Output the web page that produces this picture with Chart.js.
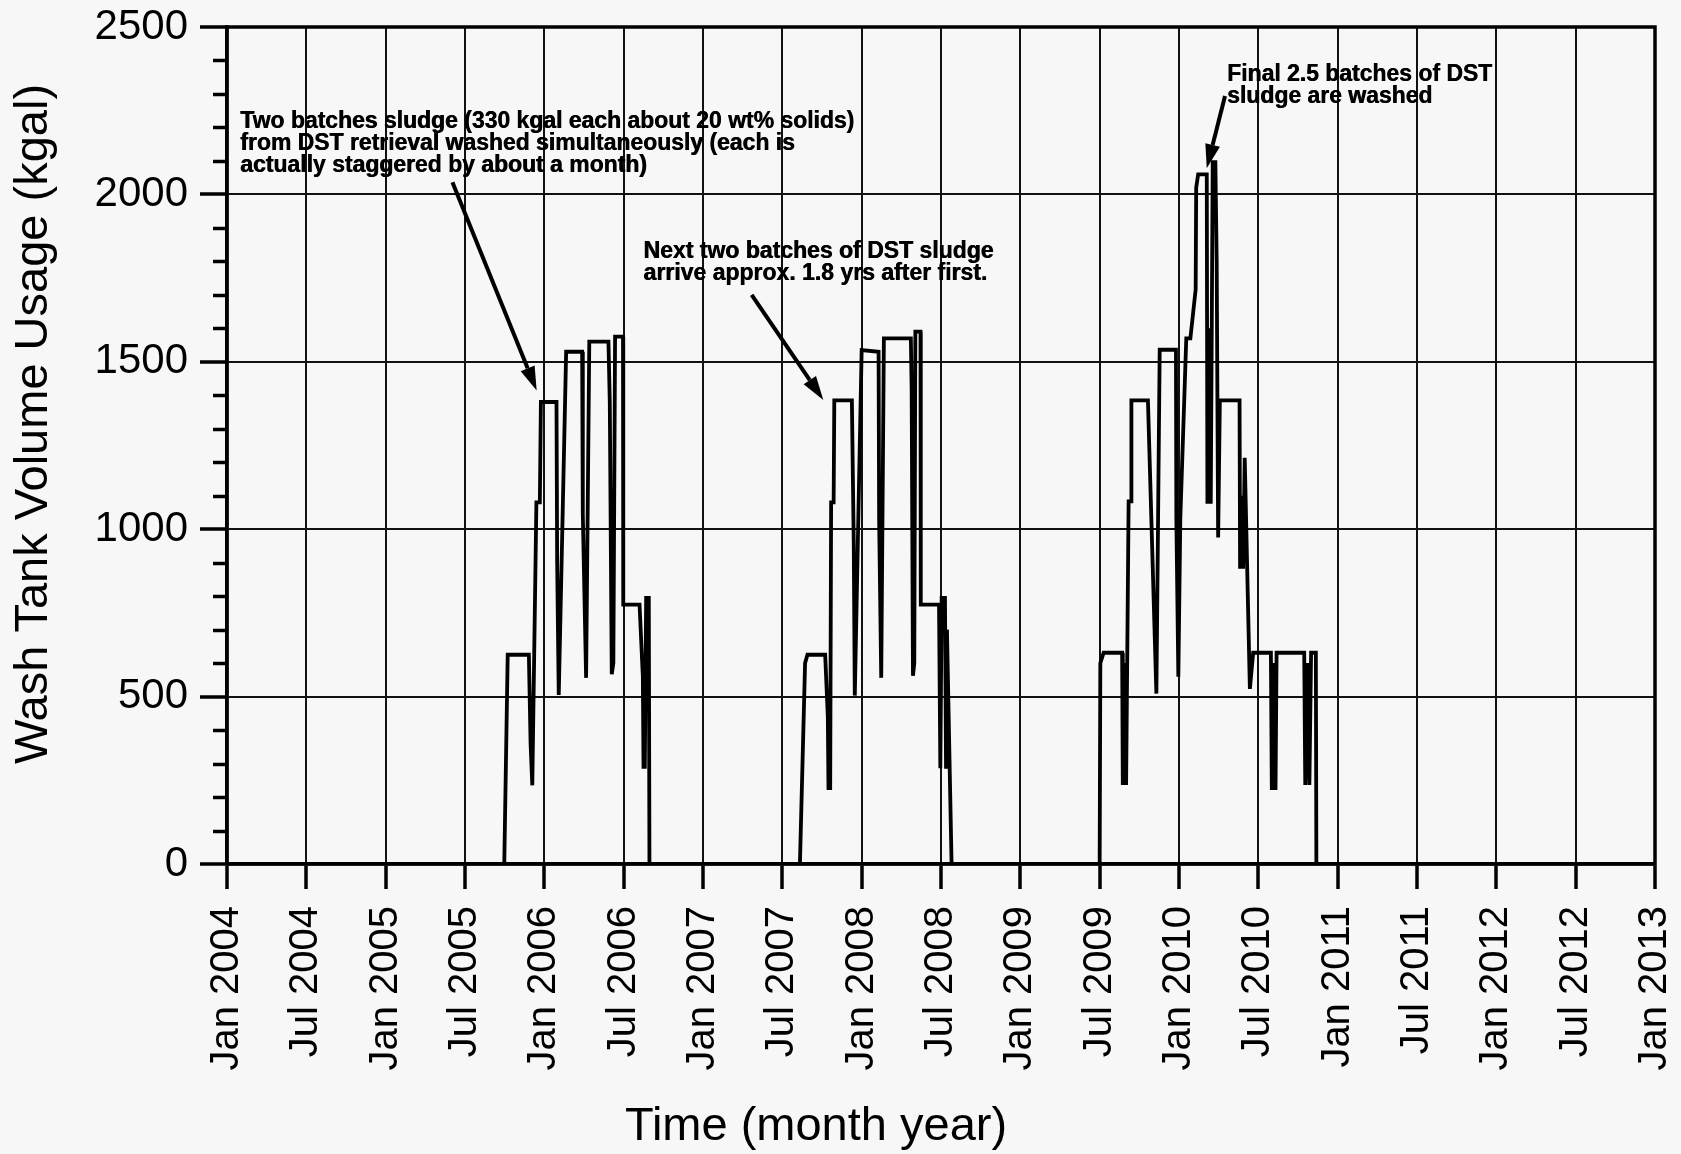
<!DOCTYPE html>
<html>
<head>
<meta charset="utf-8">
<script src="https://cdn.jsdelivr.net/npm/chart.js@4/dist/chart.umd.min.js"></script>
<style>
  html, body { margin: 0; padding: 0; background: #f7f7f7; }
  canvas { display: block; }
</style>
</head>
<body>
<canvas id="chart" width="1681" height="1154"></canvas>
<script>
// Tick labels for the time axis (one every six months, starting Jan 2004)
const xTickLabels = [
  'Jan 2004', 'Jul 2004', 'Jan 2005', 'Jul 2005', 'Jan 2006', 'Jul 2006',
  'Jan 2007', 'Jul 2007', 'Jan 2008', 'Jul 2008', 'Jan 2009', 'Jul 2009',
  'Jan 2010', 'Jul 2010', 'Jan 2011', 'Jul 2011', 'Jan 2012', 'Jul 2012',
  'Jan 2013'
];

// Time in months since Jan 2004
const months = [
  0,
  20.97, 21.23, 22.83, 22.96, 23.09, 23.40, 23.66, 23.74, 24.92, 24.97, 25.09, 25.65,
  26.86, 26.91, 27.16, 27.40, 28.85, 28.95, 29.10, 29.22, 29.35, 29.95, 29.97, 31.20,
  31.45, 31.50, 31.60, 31.70, 31.90, 31.95,
  43.33, 43.72, 43.90, 45.24, 45.44, 45.49, 45.62, 45.69, 45.88, 45.93, 47.26, 47.40,
  47.48, 48.00, 49.28, 49.32, 49.48, 49.68, 51.72, 51.78, 51.88, 51.98, 52.06, 52.45,
  52.47, 53.85, 53.95, 54.05, 54.30, 54.38, 54.45, 54.80,
  66.00, 66.05, 66.30, 67.70, 67.75, 67.90, 68.00, 68.19, 68.37, 68.40, 69.65, 70.29,
  70.54, 71.77, 71.80, 71.95, 72.10, 72.55, 72.86, 73.26, 73.30, 73.45, 74.10, 74.15,
  74.30, 74.40, 74.55, 74.75, 74.85, 74.96, 75.09, 76.58, 76.62, 76.75, 76.85, 76.97,
  77.36, 77.61, 78.95, 79.02, 79.20, 79.30, 79.38, 81.47, 81.55, 81.72, 81.86, 81.99,
  82.35, 82.39,
  108
];

// Wash tank volume in use (kgal)
const volumeKgal = [
  0,
  0, 625, 625, 360, 235, 1080, 1080, 1380, 1380, 900, 505, 1530,
  1530, 1045, 556, 1560, 1560, 1380, 567, 600, 1575, 1575, 775, 775,
  560, 290, 290, 795, 795, 0,
  0, 600, 625, 625, 440, 227, 227, 1080, 1080, 1385, 1385, 960,
  503, 1535, 1530, 1030, 556, 1570, 1570, 1420, 562, 600, 1590, 1590,
  775, 775, 286, 795, 795, 290, 700, 0,
  0, 600, 631, 631, 236, 600, 236, 1083, 1083, 1385, 1385, 509,
  1536, 1536, 1033, 559, 1033, 1570, 1570, 1716, 2020, 2060, 2060, 1076,
  1600, 1076, 2096, 2096, 1800, 975, 1385, 1385, 882, 1100, 882, 1213,
  523, 631, 631, 221, 600, 221, 631, 631, 236, 600, 236, 631,
  631, 0,
  0
];

// Callout texts
const noteFirstBatches = [
  'Two batches sludge (330 kgal each about 20 wt% solids)',
  'from DST retrieval washed simultaneously (each is',
  'actually staggered by about a month)'
];
const noteNextBatches = [
  'Next two batches of DST sludge',
  'arrive approx. 1.8 yrs after first.'
];
const noteFinalBatches = [
  'Final 2.5 batches of DST',
  'sludge are washed'
];

const xTitle = 'Time (month year)';
const yTitle = 'Wash Tank Volume Usage (kgal)';

const FONT = '"Liberation Sans", Arial, Helvetica, sans-serif';

// Callout placement: text anchor and arrow tail/tip in data units
const callouts = [
  { lines: noteFirstBatches, at: [0.99, 2197], width: 614, lineGap: 21.7,
    tail: [17.05, 2036], tip: [23.42, 1414] },
  { lines: noteNextBatches, at: [31.49, 1809], width: 350, lineGap: 21.7,
    tail: [39.68, 1700], tip: [45.10, 1386] },
  { lines: noteFinalBatches, at: [75.63, 2340], width: 265, lineGap: 22,
    tail: [75.48, 2294], tip: [74.10, 2078] }
];

function drawArrow(ctx, x0, y0, x1, y1) {
  const ang = Math.atan2(y1 - y0, x1 - x0);
  const headLen = 24, headHalf = 7.5;
  const bx = x1 - headLen * Math.cos(ang), by = y1 - headLen * Math.sin(ang);
  ctx.beginPath();
  ctx.moveTo(x0, y0);
  ctx.lineTo(bx, by);
  ctx.lineWidth = 4;
  ctx.lineCap = 'butt';
  ctx.stroke();
  ctx.beginPath();
  ctx.moveTo(x1, y1);
  ctx.lineTo(bx + headHalf * Math.sin(ang), by - headHalf * Math.cos(ang));
  ctx.lineTo(bx - headHalf * Math.sin(ang), by + headHalf * Math.cos(ang));
  ctx.closePath();
  ctx.fill();
}

const decorations = {
  id: 'decorations',
  beforeDraw(chart) {
    const ctx = chart.ctx;
    ctx.save();
    ctx.fillStyle = '#f7f7f7';
    ctx.fillRect(0, 0, chart.width, chart.height);
    ctx.restore();
  },
  afterDraw(chart) {
    const { ctx, chartArea: a, scales: { x, y } } = chart;
    ctx.save();
    ctx.strokeStyle = '#000';
    ctx.fillStyle = '#000';

    // minor tick marks every 100 kgal
    ctx.lineWidth = 3.5;
    for (let v = 100; v < 2500; v += 100) {
      if (v % 500 === 0) continue;
      const py = Math.round(y.getPixelForValue(v)) + 0.5;
      ctx.beginPath();
      ctx.moveTo(a.left - 14, py);
      ctx.lineTo(a.left, py);
      ctx.stroke();
    }

    // plot frame
    ctx.lineWidth = 3.5;
    ctx.strokeRect(a.left, a.top, a.right - a.left, a.bottom - a.top);

    // axis titles
    ctx.font = '47px ' + FONT;
    ctx.textAlign = 'center';
    ctx.textBaseline = 'middle';
    ctx.fillText(xTitle, 816, 1127);
    ctx.save();
    ctx.translate(34, 424);
    ctx.rotate(-Math.PI / 2);
    ctx.fillText(yTitle, 0, 0);
    ctx.restore();

    // callouts (condensed bold text + arrows)
    ctx.font = 'bold 23.5px ' + FONT;
    ctx.textAlign = 'left';
    ctx.textBaseline = 'alphabetic';
    callouts.forEach(c => {
      const px = x.getPixelForValue(c.at[0]);
      const py = y.getPixelForValue(c.at[1]);
      const sx = c.width / ctx.measureText(c.lines[0]).width;
      ctx.save();
      ctx.translate(px, py);
      ctx.scale(sx, 1);
      c.lines.forEach((line, i) => {
        ctx.fillText(line, 0, i * c.lineGap);
        ctx.fillText(line, 0.6, i * c.lineGap);
      });
      ctx.restore();
      drawArrow(ctx,
        x.getPixelForValue(c.tail[0]), y.getPixelForValue(c.tail[1]),
        x.getPixelForValue(c.tip[0]), y.getPixelForValue(c.tip[1]));
    });
    ctx.restore();
  }
};

const isMajor = c => c.tick && Math.round(c.tick.value) % 500 === 0;

new Chart(document.getElementById('chart'), {
  type: 'line',
  data: {
    datasets: [{
      data: months.map((m, i) => ({ x: m, y: volumeKgal[i] })),
      borderColor: '#000',
      borderWidth: 3.8,
      borderJoinStyle: 'miter',
      pointRadius: 0,
      tension: 0,
      fill: false
    }]
  },
  options: {
    responsive: false,
    animation: false,
    devicePixelRatio: 1,
    layout: { padding: { left: 0, right: 26, top: 27, bottom: 0 } },
    plugins: { legend: { display: false }, tooltip: { enabled: false } },
    scales: {
      x: {
        type: 'linear',
        min: 0,
        max: 108,
        afterFit: s => { s.height = 290; s.paddingLeft = 0; s.paddingRight = 0; },
        ticks: {
          stepSize: 6,
          maxTicksLimit: 100,
          autoSkip: false,
          minRotation: 90,
          maxRotation: 90,
          padding: 17,
          color: '#000',
          font: { family: FONT, size: 40 },
          callback: v => xTickLabels[Math.round(v / 6)]
        },
        grid: {
          color: '#111',
          lineWidth: 2,
          tickLength: 25,
          tickWidth: 3.5,
          tickColor: '#000'
        },
        border: { display: true, color: '#000', width: 3.5 }
      },
      y: {
        type: 'linear',
        min: 0,
        max: 2500,
        afterFit: s => { s.width = 227; s.paddingTop = 0; s.paddingBottom = 0; },
        ticks: {
          stepSize: 100,
          maxTicksLimit: 100,
          autoSkip: false,
          padding: 12,
          color: '#000',
          font: { family: FONT, size: 42 },
          callback: v => (v % 500 === 0 ? String(v) : '')
        },
        grid: {
          color: c => (isMajor(c) ? '#111' : 'rgba(0,0,0,0)'),
          lineWidth: 2,
          tickLength: 27,
          tickWidth: 3.5,
          tickColor: c => (isMajor(c) ? '#000' : 'rgba(0,0,0,0)')
        },
        border: { display: true, color: '#000', width: 3.5 }
      }
    }
  },
  plugins: [decorations]
});
</script>
</body>
</html>
